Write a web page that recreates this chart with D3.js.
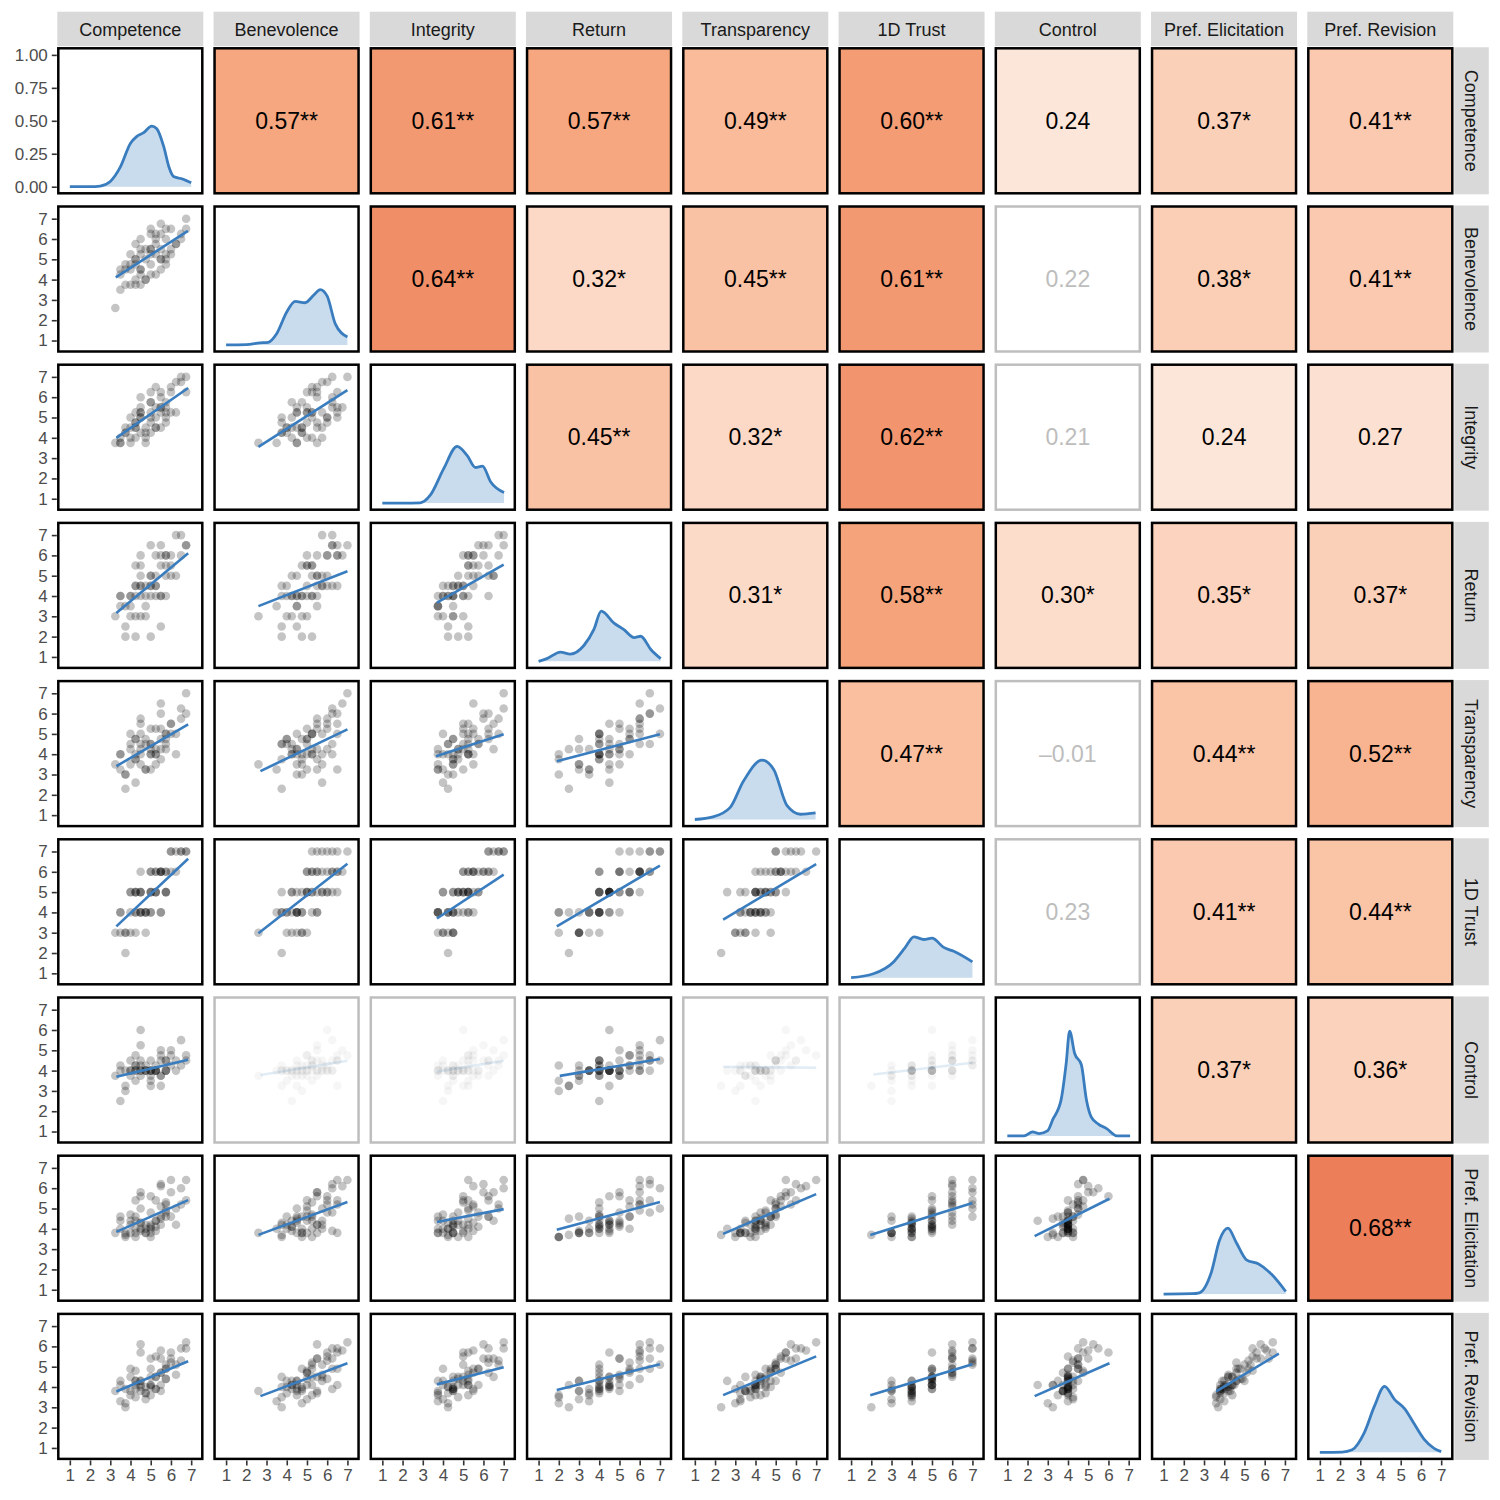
<!DOCTYPE html>
<html>
<head>
<meta charset="utf-8">
<script src="https://cdn.jsdelivr.net/npm/d3@7"></script>
<style>
  body { margin: 0; background: #fff; }
  text { font-family: "Liberation Sans", Arial, Helvetica, sans-serif; }
</style>
</head>
<body>
<svg id="chart" width="1500" height="1500"></svg>
<script>
// variable names (facet strips)
const variables = ["Competence", "Benevolence", "Integrity", "Return", "Transparency",
                   "1D Trust", "Control", "Pref. Elicitation", "Pref. Revision"];

// per-respondent scores, one array per variable (estimated from the scatter clouds)
const competence = [5.0, 4.25, 5.75, 3.25, 6.75, 4.5, 5.5, 4.0, 5.25, 3.75,
                    6.0, 4.75, 5.25, 3.75, 5.5, 4.5, 4.0, 6.5, 5.0, 4.75,
                    5.5, 3.5, 5.75, 4.25, 6.25, 4.5, 5.0, 4.25, 6.5, 5.25,
                    4.5, 5.75, 3.75, 5.0, 4.75, 6.0, 4.25, 5.5, 5.0, 4.0,
                    5.5, 4.75, 6.25, 5.25, 4.25, 5.5, 3.5, 5.75, 4.5, 5.0,
                    4.5, 6.0, 5.25, 4.0, 5.75, 4.5, 5.0, 3.5, 6.75, 4.25];
const benevolence = [5.5, 4.75, 6.5, 2.6, 7.0, 5.25, 5.0, 4.5, 6.0, 4.75,
                     5.5, 4.0, 5.75, 3.75, 6.25, 4.25, 5.25, 6.25, 4.25, 5.5,
                     5.0, 4.25, 5.0, 3.75, 5.75, 6.0, 4.75, 4.0, 6.0, 6.25,
                     4.5, 5.25, 4.5, 6.25, 4.0, 5.25, 5.75, 4.5, 5.5, 3.75,
                     6.75, 5.0, 5.75, 4.25, 5.0, 5.5, 3.5, 6.0, 5.5, 5.25,
                     3.75, 6.5, 5.25, 4.75, 4.75, 4.5, 6.5, 4.5, 6.5, 5.0];
const integrity = [4.75, 4.5, 5.5, 3.75, 7.0, 5.25, 6.25, 3.75, 5.0, 4.25,
                   6.5, 4.5, 4.5, 4.25, 6.0, 5.0, 4.0, 7.0, 5.75, 3.75,
                   5.5, 4.0, 5.25, 4.75, 5.25, 5.0, 4.25, 4.5, 6.75, 5.5,
                   5.5, 5.0, 4.5, 5.75, 4.25, 6.25, 4.0, 5.25, 6.25, 5.0,
                   5.5, 4.0, 6.75, 4.5, 5.25, 4.5, 3.75, 4.75, 6.0, 5.25,
                   4.25, 5.25, 6.5, 4.5, 5.75, 5.25, 5.0, 3.75, 6.25, 4.75];
const returnScore = [4.5, 4.0, 6.0, 3.0, 6.5, 5.5, 4.0, 3.5, 6.0, 2.0,
                     5.0, 4.5, 4.5, 2.5, 6.5, 3.0, 4.0, 7.0, 5.0, 3.5,
                     5.5, 4.0, 6.0, 2.0, 5.0, 4.5, 4.0, 3.0, 6.0, 4.5,
                     5.0, 4.0, 3.5, 6.5, 4.0, 5.5, 4.5, 2.5, 5.0, 4.0,
                     6.0, 3.0, 7.0, 4.0, 5.5, 4.0, 3.5, 5.0, 6.0, 2.0,
                     4.5, 6.0, 5.0, 3.0, 5.5, 4.0, 4.5, 4.0, 6.5, 4.5];
const transparency = [4.25, 3.75, 5.0, 3.5, 7.0, 4.0, 4.75, 4.25, 5.25, 3.0,
                      5.5, 4.75, 3.5, 2.3, 6.0, 4.25, 5.0, 6.25, 4.5, 3.25,
                      5.25, 4.0, 4.5, 3.75, 4.0, 5.5, 4.0, 4.75, 5.75, 4.0,
                      3.5, 5.0, 3.0, 4.5, 4.5, 5.0, 2.6, 4.25, 5.25, 4.5,
                      6.5, 3.25, 5.0, 4.0, 4.75, 3.75, 3.25, 4.25, 5.75, 4.0,
                      4.5, 5.5, 4.25, 3.5, 4.75, 5.0, 3.25, 4.0, 6.0, 4.0];
const trust1D = [5, 4, 6, 3, 7, 5, 6, 4, 6, 3,
                 7, 4, 5, 2, 6, 4, 5, 7, 5, 4,
                 6, 3, 5, 4, 6, 5, 4, 3, 7, 5,
                 4, 6, 3, 6, 4, 7, 5, 4, 6, 5,
                 6, 3, 7, 5, 5, 4, 4, 5, 6, 4,
                 4, 6, 6, 3, 5, 5, 5, 4, 7, 5];
const control = [4.0, 4.25, 4.5, 3.75, 4.75, 4.25, 3.75, 4.0, 4.0, 3.0,
                 5.0, 4.0, 4.25, 3.25, 4.5, 4.0, 4.5, 5.5, 3.75, 4.0,
                 4.75, 2.5, 4.0, 4.25, 4.0, 6.0, 4.0, 3.5, 4.25, 4.0,
                 3.75, 4.5, 4.0, 4.0, 4.0, 4.25, 4.0, 3.25, 4.5, 4.0,
                 5.0, 4.25, 4.5, 4.0, 4.75, 3.75, 4.0, 4.0, 5.25, 3.5,
                 4.0, 4.75, 4.0, 3.75, 4.0, 4.5, 3.25, 4.25, 4.5, 4.0];
const prefElicitation = [4.2, 3.8, 5.2, 3.8, 6.4, 4.0, 4.6, 4.4, 5.4, 3.6,
                         5.8, 4.2, 4.4, 3.7, 6.2, 3.9, 4.7, 6.0, 4.1, 3.8,
                         5.1, 4.4, 4.9, 3.6, 4.2, 5.6, 4.0, 4.6, 5.2, 3.9,
                         4.3, 5.3, 3.8, 4.8, 4.0, 4.6, 4.0, 4.5, 5.6, 4.2,
                         6.1, 3.8, 5.0, 4.1, 5.4, 4.2, 4.0, 4.8, 5.8, 3.6,
                         4.3, 6.4, 4.4, 3.8, 4.6, 5.0, 3.8, 4.6, 5.4, 4.4];
const prefRevision = [4.5, 3.9, 4.9, 3.8, 6.2, 4.1, 4.7, 3.6, 5.5, 3.2,
                      5.4, 4.0, 4.5, 3.0, 5.4, 4.3, 4.9, 5.9, 4.1, 3.7,
                      4.7, 4.1, 4.4, 3.5, 4.6, 5.7, 4.0, 4.3, 5.3, 3.9,
                      3.8, 5.1, 3.9, 4.9, 3.7, 5.2, 4.3, 4.1, 5.4, 4.5,
                      5.8, 3.4, 5.1, 3.9, 4.8, 3.8, 3.3, 4.4, 6.1, 3.6,
                      4.0, 5.7, 4.5, 3.8, 4.9, 4.3, 4.1, 4.3, 5.9, 4.1];
const columns = [competence, benevolence, integrity, returnScore, transparency,
                 trust1D, control, prefElicitation, prefRevision];

// diagonal density curves: [value, density]
const densCompetence = [[1,0],[2,0],[2.5,0.005],[3,0.04],[3.5,0.15],[4,0.33],[4.3,0.38],[4.65,0.41],
                        [5.05,0.46],[5.3,0.44],[5.65,0.30],[5.9,0.15],[6.15,0.075],[6.55,0.06],[7,0.03]];
const densBenevolence = [[1,0],[2,0.002],[2.67,0.015],[3.08,0.02],[3.5,0.085],[4,0.25],[4.42,0.33],
                         [4.9,0.32],[5.35,0.38],[5.65,0.42],[6.0,0.37],[6.4,0.16],[7,0.06]];
const densIntegrity = [[1,0],[2,0],[2.87,0.002],[3.37,0.06],[4.03,0.26],[4.7,0.43],[5.2,0.36],
                       [5.6,0.27],[5.95,0.28],[6.36,0.16],[7.02,0.08]];
const densReturn = [[1,0],[1.41,0.02],[2.08,0.07],[2.57,0.055],[3.24,0.12],[3.73,0.24],[4.1,0.38],
                    [4.73,0.29],[5.22,0.24],[5.72,0.18],[6.05,0.19],[6.55,0.09],[7.04,0.02]];
const densTransparency = [[1,0],[1.9,0.02],[2.74,0.09],[3.4,0.29],[4.32,0.45],[4.9,0.38],
                          [5.56,0.105],[6.22,0.04],[6.97,0.05]];
const densTrust1D = [[1,0],[2.1,0.03],[3.1,0.12],[3.68,0.23],[4.1,0.31],[4.6,0.29],[5.0,0.30],
                     [5.58,0.23],[6.08,0.2],[7.0,0.12]];
const densControl = [[1,0],[1.83,0],[2.25,0.03],[2.58,0.018],[3.0,0.04],[3.25,0.125],[3.66,0.275],
                     [3.91,0.55],[4.08,0.795],[4.33,0.625],[4.66,0.54],[4.91,0.275],[5.16,0.14],
                     [5.5,0.09],[5.91,0.055],[6.41,0],[7.07,0]];
const densPrefElicitation = [[1,0],[2.4,0.003],[2.77,0.01],[3.35,0.16],[3.77,0.41],[4.18,0.5],[4.6,0.39],
                             [5.1,0.26],[5.68,0.23],[6.34,0.15],[7.04,0.02]];
const densPrefRevision = [[1,0],[2.1,0.002],[2.6,0.02],[3.2,0.15],[3.7,0.35],[4.2,0.5],[4.7,0.4],
                          [5.2,0.33],[5.65,0.22],[6.15,0.1],[6.65,0.03],[7,0.005]];
const densities = [densCompetence, densBenevolence, densIntegrity, densReturn, densTransparency,
                   densTrust1D, densControl, densPrefElicitation, densPrefRevision];

// upper triangle: correlation per row (columns to the right of the diagonal)
const corrRows = [
  [0.57, 0.61, 0.57, 0.49, 0.60, 0.24, 0.37, 0.41],
  [0.64, 0.32, 0.45, 0.61, 0.22, 0.38, 0.41],
  [0.45, 0.32, 0.62, 0.21, 0.24, 0.27],
  [0.31, 0.58, 0.30, 0.35, 0.37],
  [0.47, -0.01, 0.44, 0.52],
  [0.23, 0.41, 0.44],
  [0.37, 0.36],
  [0.68]
];
const starRows = [
  ["**", "**", "**", "**", "**", "", "*", "**"],
  ["**", "*", "**", "**", "", "*", "**"],
  ["**", "*", "**", "", "", ""],
  ["*", "**", "*", "*", "*"],
  ["**", "", "**", "**"],
  ["", "**", "**"],
  ["*", "*"],
  ["**"]
];
// pairs drawn greyed out
const fadedPairs = [[1, 6], [2, 6], [4, 6], [5, 6]];

// lower triangle regression lines: [row, col, x0, y0, x1, y1]
const fitLines = [
  [1,0, 3.27,4.11, 6.84,6.40],
  [2,0, 3.3,4.0, 6.85,6.45], [2,1, 2.6,3.55, 7.0,6.35],
  [3,0, 3.3,3.16, 6.85,6.1], [3,1, 2.6,3.5, 7.0,5.22], [3,2, 3.7,3.67, 7.0,5.55],
  [4,0, 3.3,3.41, 6.85,5.47], [4,1, 2.7,3.17, 7.0,5.22], [4,2, 3.65,3.9, 7.0,4.98], [4,3, 1.9,3.65, 7.0,4.98],
  [5,0, 3.3,3.31, 6.85,6.64], [5,1, 2.6,2.97, 7.0,6.4], [5,2, 3.7,3.7, 7.0,5.86], [5,3, 1.9,3.31, 7.0,6.3],
  [5,4, 2.4,3.64, 7.0,6.38],
  [6,0, 3.3,3.7, 6.85,4.53], [6,1, 2.7,3.78, 7.0,4.49], [6,2, 3.7,3.95, 7.0,4.49], [6,3, 2.05,3.74, 7.0,4.57],
  [6,4, 2.4,4.19, 7.0,4.14], [6,5, 2.1,3.81, 7.0,4.39],
  [7,0, 3.3,3.85, 6.85,5.41], [7,1, 2.6,3.7, 7.0,5.32], [7,2, 3.7,4.34, 7.0,4.97], [7,3, 1.9,3.95, 7.0,5.32],
  [7,4, 2.4,3.75, 7.0,5.71], [7,5, 1.95,3.7, 7.0,5.27], [7,6, 2.35,3.64, 6.05,5.48],
  [8,0, 3.3,3.78, 6.85,5.27], [8,1, 2.7,3.55, 7.0,5.17], [8,2, 3.7,4.13, 7.0,4.97], [8,3, 1.9,3.85, 7.0,5.12],
  [8,4, 2.4,3.6, 7.0,5.51], [8,5, 1.95,3.6, 7.0,5.12], [8,6, 2.35,3.55, 6.05,5.17], [8,7, 3.6,3.78, 6.7,5.64]
];

const densityTicks = [0, 0.25, 0.5, 0.75, 1];
const scoreTicks = [1, 2, 3, 4, 5, 6, 7];

// fill colour stops for the correlation cells
const corrStops = [0, 0.24, 0.37, 0.49, 0.57, 0.68, 1];
const corrColors = ["#ffffff", "#fce6da", "#fbd0b9", "#f9bb9a", "#f6a77f", "#ec7f59", "#c9452a"];

// layout
const left0 = 58.3, top0 = 48.3, stepX = 156.25, stepY = 158.2;
const pw = 144, ph = 145;
const n = variables.length;

const svg = d3.select('#chart');

const x = d3.scaleLinear().domain([0.43, 7.55]).range([0, pw]);
const y = d3.scaleLinear().domain([0.46, 7.6]).range([ph, 0]);
const yDens = d3.scaleLinear().domain([-0.05, 1.05]).range([ph, 0]);
const fillScale = d3.scaleLinear().domain(corrStops).range(corrColors).interpolate(d3.interpolateLab);

const isFaded = (i, j) => fadedPairs.some(([a, b]) => (a === i && b === j) || (a === j && b === i));

svg.append('defs').append('clipPath').attr('id', 'panelClip')
    .append('rect').attr('width', pw).attr('height', ph);

for (let i = 0; i < n; i++) {
    for (let j = 0; j < n; j++) {
        const g = svg.append('g')
            .attr('transform', `translate(${left0 + j * stepX},${top0 + i * stepY})`);
        const faded = isFaded(i, j);
        let bg = '#ffffff';

        if (i < j) {
            // correlation cell
            const r = corrRows[i][j - i - 1];
            const stars = starRows[i][j - i - 1];
            bg = faded ? '#ffffff' : fillScale(r);
            g.append('rect').attr('width', pw).attr('height', ph).attr('fill', bg);
            const label = (r < 0 ? '\u2013' + Math.abs(r).toFixed(2) : r.toFixed(2)) + stars;
            g.append('text')
                .attr('x', pw / 2)
                .attr('y', ph / 2 + 8)
                .attr('text-anchor', 'middle')
                .style('font-size', '23px')
                .style('fill', faded ? '#bdbdbd' : '#000')
                .text(label);
        } else if (i === j) {
            g.append('rect').attr('width', pw).attr('height', ph).attr('fill', bg);
            const dens = densities[i];
            const inner = g.append('g').attr('clip-path', 'url(#panelClip)');
            inner.append('path')
                .datum(dens)
                .attr('fill', '#c9dcee')
                .attr('d', d3.area()
                    .x(d => x(d[0]))
                    .y0(yDens(0))
                    .y1(d => yDens(d[1]))
                    .curve(d3.curveMonotoneX));
            inner.append('path')
                .datum(dens)
                .attr('fill', 'none')
                .attr('stroke', '#3a7dbf')
                .attr('stroke-width', 2.8)
                .attr('stroke-linejoin', 'round')
                .attr('d', d3.line()
                    .x(d => x(d[0]))
                    .y(d => yDens(d[1]))
                    .curve(d3.curveMonotoneX));
        } else {
            g.append('rect').attr('width', pw).attr('height', ph).attr('fill', bg);
            const inner = g.append('g').attr('clip-path', 'url(#panelClip)');
            const xs = columns[j], ys = columns[i];
            inner.selectAll('circle')
                .data(d3.range(xs.length))
                .join('circle')
                .attr('cx', k => x(xs[k]))
                .attr('cy', k => y(ys[k]))
                .attr('r', 4.3)
                .attr('fill', '#000')
                .attr('fill-opacity', faded ? 0.035 : 0.23);
            const fit = fitLines.find(f => f[0] === i && f[1] === j);
            if (fit) {
                inner.append('line')
                    .attr('x1', x(fit[2])).attr('y1', y(fit[3]))
                    .attr('x2', x(fit[4])).attr('y2', y(fit[5]))
                    .attr('stroke', '#3a7dbf')
                    .attr('stroke-opacity', faded ? 0.15 : 1)
                    .attr('stroke-width', 2.6);
            }
        }

        // panel border
        g.append('rect')
            .attr('width', pw).attr('height', ph)
            .attr('fill', 'none')
            .attr('stroke', faded ? '#bebebe' : '#000')
            .attr('stroke-width', 2.5);
    }
}

// top strips
variables.forEach((v, j) => {
    const sx = left0 + j * stepX;
    svg.append('rect')
        .attr('x', sx - 1).attr('y', 11.7)
        .attr('width', pw + 2).attr('height', 34.5)
        .attr('fill', '#d9d9d9');
    svg.append('text')
        .attr('x', sx + pw / 2).attr('y', 35.5)
        .attr('text-anchor', 'middle')
        .style('font-size', '18px')
        .style('fill', '#1a1a1a')
        .text(v);
});

// right strips
variables.forEach((v, i) => {
    const sx = left0 + (n - 1) * stepX + pw + 2;
    const sy = top0 + i * stepY;
    svg.append('rect')
        .attr('x', sx).attr('y', sy - 1)
        .attr('width', 34.5).attr('height', ph + 2)
        .attr('fill', '#d9d9d9');
    svg.append('text')
        .attr('transform', `translate(${sx + 11},${sy + ph / 2}) rotate(90)`)
        .attr('text-anchor', 'middle')
        .style('font-size', '18px')
        .style('fill', '#1a1a1a')
        .text(v);
});

function styleAxis(ax) {
    ax.select('.domain').remove();
    ax.selectAll('.tick line').attr('stroke', '#333').attr('stroke-width', 1.6);
    ax.selectAll('.tick text')
        .style('font-size', '17px')
        .style('font-family', '"Liberation Sans", Arial, sans-serif')
        .attr('fill', '#4d4d4d');
}

// left axes
for (let i = 0; i < n; i++) {
    const ax = svg.append('g')
        .attr('transform', `translate(${left0 - 1.5},${top0 + i * stepY})`);
    if (i === 0) {
        ax.call(d3.axisLeft(yDens).tickValues(densityTicks).tickFormat(d3.format('.2f'))
            .tickSize(5).tickPadding(4));
    } else {
        ax.call(d3.axisLeft(y).tickValues(scoreTicks).tickFormat(d3.format('d'))
            .tickSize(5).tickPadding(4));
    }
    styleAxis(ax);
}

// bottom axes
for (let j = 0; j < n; j++) {
    const ax = svg.append('g')
        .attr('transform', `translate(${left0 + j * stepX},${top0 + (n - 1) * stepY + ph + 1.5})`);
    ax.call(d3.axisBottom(x).tickValues(scoreTicks).tickFormat(d3.format('d'))
        .tickSize(5).tickPadding(4));
    styleAxis(ax);
}
</script>
</body>
</html>
